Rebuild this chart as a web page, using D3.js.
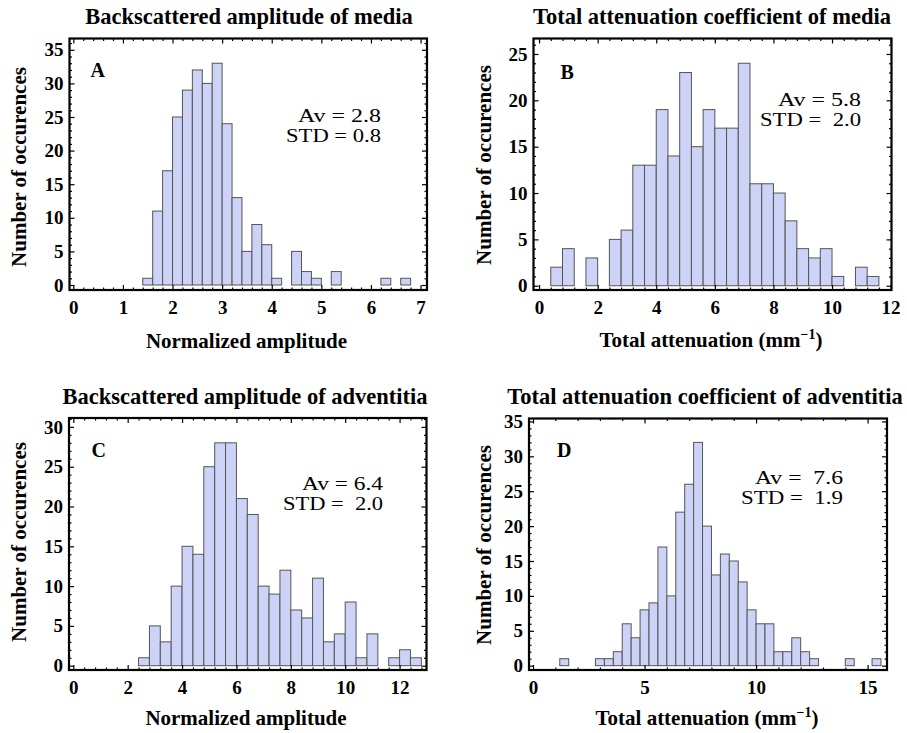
<!DOCTYPE html>
<html>
<head>
<meta charset="utf-8">
<title>Backscattered amplitude and attenuation histograms</title>
<script src="https://cdnjs.cloudflare.com/ajax/libs/d3/7.8.5/d3.min.js"></script>
<style>
  body { margin: 0; background: #fff; }
  svg { display: block; font-family: "Liberation Serif", "Times New Roman", serif; }
  .tick text { font-size: 19px; font-weight: bold; fill: #000; font-family: "Liberation Serif", serif; }
  .tick line { stroke: #000; stroke-width: 1.2; }
  .bar { fill: #ccd3f6; stroke: #555; stroke-width: 1; }
  .pre { white-space: pre; }
</style>
</head>
<body>
<svg width="907" height="733"></svg>
<script>
// histogram bins (lower edge) and counts, empty bins left out
const binsA   = [1.4, 1.6, 1.8, 2.0, 2.2, 2.4, 2.6, 2.8, 3.0, 3.2, 3.4, 3.6, 3.8, 4.0, 4.4, 4.6, 4.8, 5.2, 6.2, 6.6];
const countsA = [1, 11, 17, 25, 29, 32, 30, 33, 24, 13, 5, 9, 6, 1, 5, 2, 1, 2, 1, 1];

const binsB   = [0.4, 0.8, 1.6, 2.4, 2.8, 3.2, 3.6, 4.0, 4.4, 4.8, 5.2, 5.6, 6.0, 6.4, 6.8, 7.2, 7.6, 8.0, 8.4, 8.8, 9.2, 9.6, 10.0, 10.8, 11.2];
const countsB = [2, 4, 3, 5, 6, 13, 13, 19, 14, 23, 15, 19, 17, 17, 24, 11, 11, 10, 7, 4, 3, 4, 1, 2, 1];

const binsC   = [2.4, 2.8, 3.2, 3.6, 4.0, 4.4, 4.8, 5.2, 5.6, 6.0, 6.4, 6.8, 7.2, 7.6, 8.0, 8.4, 8.8, 9.2, 9.6, 10.0, 10.4, 10.8, 11.6, 12.0, 12.4];
const countsC = [1, 5, 3, 10, 15, 14, 25, 28, 28, 21, 19, 10, 9, 12, 7, 6, 11, 3, 4, 8, 1, 4, 1, 2, 1];

const binsD   = [1.2, 2.8, 3.2, 3.6, 4.0, 4.4, 4.8, 5.2, 5.6, 6.0, 6.4, 6.8, 7.2, 7.6, 8.0, 8.4, 8.8, 9.2, 9.6, 10.0, 10.4, 10.8, 11.2, 11.6, 12.0, 12.4, 14.0, 15.2];
const countsD = [1, 1, 1, 2, 6, 4, 8, 9, 17, 10, 22, 26, 32, 20, 13, 16, 15, 12, 8, 6, 6, 2, 2, 4, 2, 1, 1, 1];

const binWidths = [0.2, 0.4, 0.4, 0.4];

// tick labels
const xTicksA = [0, 1, 2, 3, 4, 5, 6, 7];
const xTicksB = [0, 2, 4, 6, 8, 10, 12];
const xTicksC = [0, 2, 4, 6, 8, 10, 12];
const xTicksD = [0, 5, 10, 15];
const yTicksA = [0, 5, 10, 15, 20, 25, 30, 35];
const yTicksB = [0, 5, 10, 15, 20, 25];
const yTicksC = [0, 5, 10, 15, 20, 25, 30];
const yTicksD = [0, 5, 10, 15, 20, 25, 30, 35];

const titles = ['Backscattered amplitude of media', 'Total attenuation coefficient of media',
                'Backscattered amplitude of adventitia', 'Total attenuation coefficient of adventitia'];
const letters = ['A', 'B', 'C', 'D'];
const avText  = ['Av = 2.8', 'Av = 5.8', 'Av = 6.4', 'Av =  7.6'];
const stdText = ['STD = 0.8', 'STD =  2.0', 'STD =  2.0', 'STD =  1.9'];

const svg = d3.select('svg');

// layout of each panel (frame box, axis ranges, where the texts go)
const panels = [
  {bins: binsA, counts: countsA, xTicks: xTicksA, yTicks: yTicksA, xMinor: 0.2,
   frame: {l: 69.5, r: 427, t: 38.5, b: 290}, xd: [-0.077, 7.13], yd: [-0.744, 36.68],
   title: [249, 24], letter: [90.5, 76.5], stats: [381, 122, 142], statW: [83, 95],
   xlab: [246.5, 348], ylab: [26, 167], xlabKind: 'amp'},
  {bins: binsB, counts: countsB, xTicks: xTicksB, yTicks: yTicksB, xMinor: 0.4,
   frame: {l: 533.5, r: 891.5, t: 38.5, b: 290}, xd: [-0.19, 12.03], yd: [-0.46, 26.67],
   title: [712, 24], letter: [560.5, 79], stats: [861, 106, 126], statW: [83, 101],
   xlab: [711, 346.5], ylab: [491, 165], xlabKind: 'att'},
  {bins: binsC, counts: countsC, xTicks: xTicksC, yTicks: yTicksC, xMinor: 0.4,
   frame: {l: 69, r: 426.5, t: 418, b: 670}, xd: [-0.158, 12.99], yd: [-0.54, 31.12],
   title: [245, 404], letter: [91.5, 456.5], stats: [383, 490, 510], statW: [81, 100],
   xlab: [246, 725], ylab: [26, 542], xlabKind: 'amp'},
  {bins: binsD, counts: countsD, xTicks: xTicksD, yTicks: yTicksD, xMinor: 1,
   frame: {l: 529, r: 887, t: 418.5, b: 670}, xd: [-0.18, 15.87], yd: [-0.62, 35.42],
   title: [705, 404], letter: [557, 456.5], stats: [843, 484, 504], statW: [88, 102],
   xlab: [707, 725], ylab: [491, 545], xlabKind: 'att'}
];

function minorTicks(domain, step, majors) {
  const out = [];
  for (let i = Math.ceil(domain[0] / step); i * step <= domain[1]; i++) {
    const v = +(i * step).toFixed(4);
    if (!majors.includes(v)) out.push(v);
  }
  return out;
}

panels.forEach(function(p, k) {
  const g = svg.append('g');
  const f = p.frame;
  const x = d3.scaleLinear().domain(p.xd).range([f.l, f.r]);
  const y = d3.scaleLinear().domain(p.yd).range([f.b, f.t]);
  const w = binWidths[k];

  const data = p.bins.map((b, i) => ({b: b, c: p.counts[i]}));
  g.selectAll('rect.bar').data(data).enter().append('rect')
    .attr('class', 'bar')
    .attr('x', d => x(d.b))
    .attr('width', d => x(d.b + w) - x(d.b))
    .attr('y', d => y(d.c))
    .attr('height', d => y(0) - y(d.c));

  const xm = minorTicks(p.xd, p.xMinor, p.xTicks);
  const ym = minorTicks(p.yd, 1, p.yTicks);
  const noDomain = s => s.select('.domain').remove();

  // minor ticks on all four sides
  g.append('g').attr('transform', `translate(0,${f.b})`)
    .call(d3.axisBottom(x).tickValues(xm).tickSize(-2.5).tickFormat('')).call(noDomain);
  g.append('g').attr('transform', `translate(0,${f.t})`)
    .call(d3.axisTop(x).tickValues(xm).tickSize(-2.5).tickFormat('')).call(noDomain);
  g.append('g').attr('transform', `translate(${f.l},0)`)
    .call(d3.axisLeft(y).tickValues(ym).tickSize(-2.5).tickFormat('')).call(noDomain);
  g.append('g').attr('transform', `translate(${f.r},0)`)
    .call(d3.axisRight(y).tickValues(ym).tickSize(-2.5).tickFormat('')).call(noDomain);

  // major ticks, labels only bottom and left
  g.append('g').attr('transform', `translate(0,${f.b})`)
    .call(d3.axisBottom(x).tickValues(p.xTicks).tickSize(-5).tickPadding(11).tickFormat(d3.format('d')))
    .call(noDomain);
  g.append('g').attr('transform', `translate(0,${f.t})`)
    .call(d3.axisTop(x).tickValues(p.xTicks).tickSize(-5).tickFormat('')).call(noDomain);
  g.append('g').attr('transform', `translate(${f.l},0)`)
    .call(d3.axisLeft(y).tickValues(p.yTicks).tickSize(-5).tickPadding(6).tickFormat(d3.format('d')))
    .call(noDomain);
  g.append('g').attr('transform', `translate(${f.r},0)`)
    .call(d3.axisRight(y).tickValues(p.yTicks).tickSize(-5).tickFormat('')).call(noDomain);

  g.append('rect')
    .attr('x', f.l).attr('y', f.t).attr('width', f.r - f.l).attr('height', f.b - f.t)
    .attr('fill', 'none').attr('stroke', '#000').attr('stroke-width', 2.2);

  // title
  g.append('text').attr('x', p.title[0]).attr('y', p.title[1])
    .attr('text-anchor', 'middle').attr('font-size', 22.5).attr('font-weight', 'bold')
    .text(titles[k]);

  // panel letter
  g.append('text').attr('x', p.letter[0]).attr('y', p.letter[1])
    .attr('font-size', 20).attr('font-weight', 'bold').text(letters[k]);

  // stats, two lines
  g.append('text').attr('class', 'pre').attr('x', p.stats[0]).attr('y', p.stats[1])
    .attr('text-anchor', 'end').attr('font-size', 18)
    .attr('textLength', p.statW[0]).attr('lengthAdjust', 'spacingAndGlyphs')
    .text(avText[k]);
  g.append('text').attr('class', 'pre').attr('x', p.stats[0]).attr('y', p.stats[2])
    .attr('text-anchor', 'end').attr('font-size', 18)
    .attr('textLength', p.statW[1]).attr('lengthAdjust', 'spacingAndGlyphs')
    .text(stdText[k]);

  // axis titles
  const xl = g.append('text').attr('x', p.xlab[0]).attr('y', p.xlab[1])
    .attr('text-anchor', 'middle').attr('font-size', 21).attr('font-weight', 'bold');
  if (p.xlabKind === 'amp') {
    xl.text('Normalized amplitude');
  } else {
    xl.append('tspan').text('Total attenuation (mm');
    xl.append('tspan').attr('dy', -8).attr('font-size', 14).text('\u22121');
    xl.append('tspan').attr('dy', 8).text(')');
  }
  g.append('text')
    .attr('transform', `translate(${p.ylab[0]},${p.ylab[1]}) rotate(-90)`)
    .attr('text-anchor', 'middle').attr('font-size', 21).attr('font-weight', 'bold')
    .text('Number of occurences');
});
</script>
</body>
</html>
